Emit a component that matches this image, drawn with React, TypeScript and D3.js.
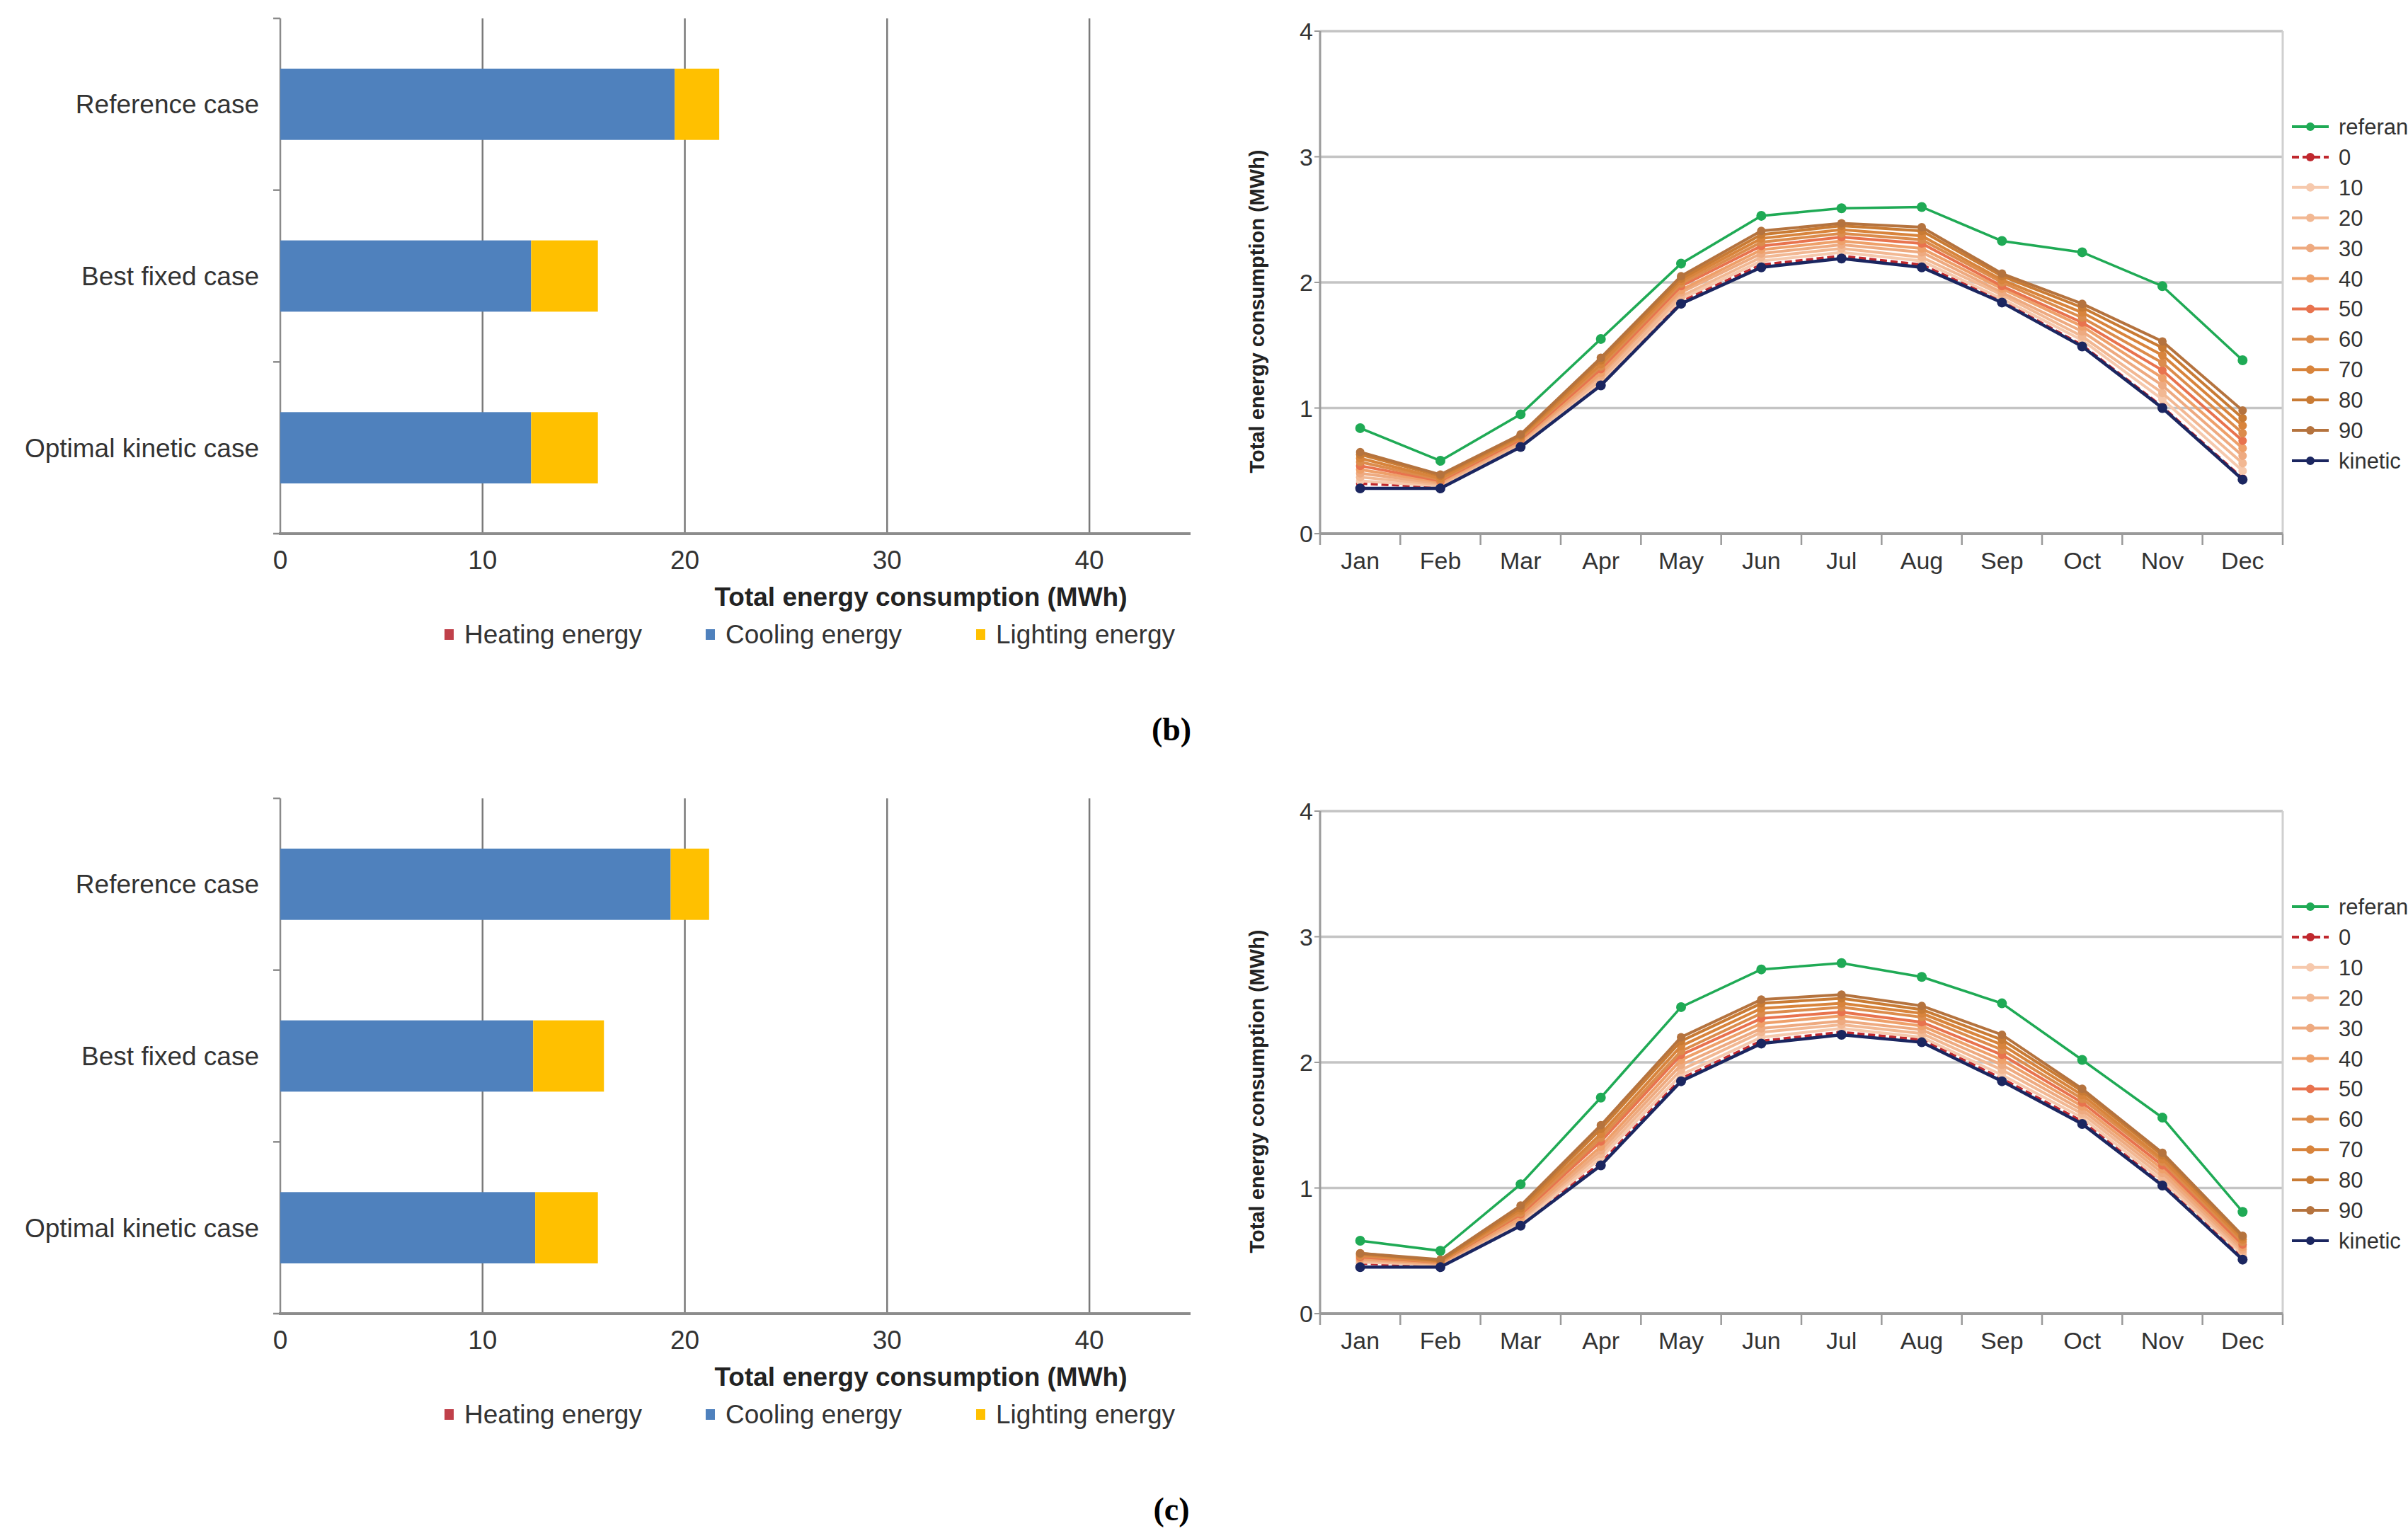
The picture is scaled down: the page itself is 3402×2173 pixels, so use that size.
import * as d3 from "d3";

const W = 3402;
const H = 2173;
const FONT = "'Liberation Sans', Arial, sans-serif";

// ---- bar charts ----
const CASES = ["Reference case", "Best fixed case", "Optimal kinetic case"];
const ENERGY_KEYS = ["Heating energy", "Cooling energy", "Lighting energy"];
const ENERGY_COLORS = ["#c0404a", "#4f81bd", "#ffc000"];
const BAR_TICKS = [0, 10, 20, 30, 40];

// per case: [heating, cooling, lighting] (MWh)
const BARS_B = [
  [0, 19.5, 2.2],
  [0, 12.4, 3.3],
  [0, 12.4, 3.3],
];
const BARS_C = [
  [0, 19.3, 1.9],
  [0, 12.5, 3.5],
  [0, 12.6, 3.1],
];

// ---- monthly line charts ----
const MONTHS = ["Jan", "Feb", "Mar", "Apr", "May", "Jun", "Jul", "Aug", "Sep", "Oct", "Nov", "Dec"];
const Y_TICKS = [0, 1, 2, 3, 4];
const SERIES_NAMES = ["referance", "0", "10", "20", "30", "40", "50", "60", "70", "80", "90", "kinetic"];
const SERIES_COLORS = [
  "#1faa55", "#c0282e", "#f6c9ad", "#f2b893", "#eeaa80", "#eea06a",
  "#e8734e", "#dc8c4c", "#d8843c", "#c97b34", "#b5733e", "#1b2660",
];

const REF_B = [0.84, 0.58, 0.95, 1.55, 2.15, 2.53, 2.59, 2.6, 2.33, 2.24, 1.97, 1.38];
const SHADES_B = [
  [0.4, 0.37, 0.7, 1.19, 1.85, 2.14, 2.21, 2.14, 1.85, 1.5, 1.01, 0.44],
  [0.42, 0.38, 0.71, 1.21, 1.87, 2.17, 2.24, 2.17, 1.87, 1.54, 1.07, 0.5],
  [0.45, 0.39, 0.72, 1.23, 1.89, 2.2, 2.27, 2.2, 1.9, 1.57, 1.12, 0.56],
  [0.48, 0.4, 0.73, 1.26, 1.92, 2.23, 2.3, 2.24, 1.92, 1.61, 1.18, 0.62],
  [0.51, 0.41, 0.74, 1.28, 1.94, 2.26, 2.33, 2.27, 1.95, 1.65, 1.24, 0.68],
  [0.54, 0.42, 0.75, 1.31, 1.97, 2.29, 2.36, 2.31, 1.97, 1.68, 1.3, 0.74],
  [0.57, 0.43, 0.76, 1.33, 1.99, 2.32, 2.39, 2.34, 2.0, 1.72, 1.36, 0.8],
  [0.6, 0.44, 0.77, 1.35, 2.01, 2.35, 2.42, 2.37, 2.02, 1.76, 1.42, 0.86],
  [0.63, 0.46, 0.78, 1.38, 2.03, 2.38, 2.45, 2.41, 2.05, 1.8, 1.48, 0.92],
  [0.65, 0.47, 0.79, 1.4, 2.05, 2.41, 2.47, 2.44, 2.07, 1.83, 1.53, 0.98],
];
const KIN_B = [0.36, 0.36, 0.69, 1.18, 1.83, 2.12, 2.19, 2.12, 1.84, 1.49, 1.0, 0.43];

const REF_C = [0.58, 0.5, 1.03, 1.72, 2.44, 2.74, 2.79, 2.68, 2.47, 2.02, 1.56, 0.81];
const SHADES_C = [
  [0.4, 0.38, 0.71, 1.2, 1.87, 2.17, 2.24, 2.18, 1.87, 1.53, 1.03, 0.45],
  [0.41, 0.39, 0.72, 1.24, 1.9, 2.2, 2.27, 2.2, 1.9, 1.56, 1.06, 0.47],
  [0.42, 0.39, 0.74, 1.27, 1.94, 2.24, 2.3, 2.23, 1.94, 1.59, 1.09, 0.49],
  [0.43, 0.4, 0.75, 1.3, 1.98, 2.27, 2.33, 2.26, 1.98, 1.62, 1.12, 0.51],
  [0.44, 0.4, 0.77, 1.33, 2.02, 2.31, 2.37, 2.29, 2.02, 1.65, 1.15, 0.53],
  [0.45, 0.41, 0.79, 1.37, 2.06, 2.35, 2.4, 2.32, 2.06, 1.68, 1.18, 0.55],
  [0.46, 0.41, 0.8, 1.4, 2.09, 2.39, 2.44, 2.36, 2.1, 1.71, 1.21, 0.57],
  [0.47, 0.42, 0.82, 1.43, 2.13, 2.43, 2.47, 2.39, 2.14, 1.74, 1.23, 0.59],
  [0.48, 0.42, 0.84, 1.47, 2.17, 2.47, 2.51, 2.42, 2.18, 1.77, 1.26, 0.61],
  [0.48, 0.43, 0.86, 1.5, 2.2, 2.5, 2.54, 2.45, 2.22, 1.79, 1.28, 0.62],
];
const KIN_C = [0.37, 0.37, 0.7, 1.18, 1.85, 2.15, 2.22, 2.16, 1.85, 1.51, 1.02, 0.43];

function BarPanel({ rows, off }: { rows: number[][]; off: number }) {
  const x = d3.scaleLinear().domain([0, 45]).range([396, 1682]);
  const y = d3
    .scaleBand()
    .domain(CASES)
    .range([26 + off, 754 + off])
    .paddingInner(0.585)
    .paddingOuter(0.2925);
  const table = CASES.map((c, i) => ({
    name: c,
    [ENERGY_KEYS[0]]: rows[i][0],
    [ENERGY_KEYS[1]]: rows[i][1],
    [ENERGY_KEYS[2]]: rows[i][2],
  }));
  const stacked = d3.stack<any>().keys(ENERGY_KEYS)(table);
  const [y0, y1] = y.range();
  const step = y.step();
  const bounds = [0, 1, 2, 3].map((k) => y0 + k * step);
  const legendX = [628, 997, 1379];

  return (
    <g>
      {BAR_TICKS.slice(1).map((t) => (
        <line key={t} x1={x(t)} x2={x(t)} y1={y0} y2={y1} stroke="#7a7a7a" strokeWidth={2.5} />
      ))}
      <line x1={x(0)} x2={x(0)} y1={y0} y2={y1} stroke="#8a8a8a" strokeWidth={2.5} />
      {bounds.map((b, i) => (
        <line key={i} x1={x(0) - 10} x2={x(0)} y1={b} y2={b} stroke="#8a8a8a" strokeWidth={2.5} />
      ))}
      {stacked.map((s, si) =>
        s.map((d, i) => (
          <rect
            key={`${si}-${i}`}
            x={x(d[0])}
            width={Math.max(0, x(d[1]) - x(d[0]))}
            y={y(CASES[i])}
            height={y.bandwidth()}
            fill={ENERGY_COLORS[si]}
          />
        ))
      )}
      <line x1={x(0) - 2} x2={x(45)} y1={y1} y2={y1} stroke="#8c8c8c" strokeWidth={4} />
      {BAR_TICKS.map((t) => (
        <text key={t} x={x(t)} y={y1 + 50} fontSize={37} textAnchor="middle" fill="#333" fontFamily={FONT}>
          {t}
        </text>
      ))}
      {CASES.map((c) => (
        <text
          key={c}
          x={x(0) - 30}
          y={(y(c) ?? 0) + y.bandwidth() / 2 + 13}
          fontSize={37}
          textAnchor="end"
          fill="#333"
          fontFamily={FONT}
        >
          {c}
        </text>
      ))}
      <text x={1301} y={y1 + 102} fontSize={37} fontWeight="bold" textAnchor="middle" fill="#222" fontFamily={FONT}>
        Total energy consumption (MWh)
      </text>
      {ENERGY_KEYS.map((k, i) => (
        <g key={k}>
          <rect x={legendX[i]} y={y1 + 135} width={13} height={15} fill={ENERGY_COLORS[i]} />
          <text x={legendX[i] + 28} y={y1 + 155} fontSize={37} fill="#333" fontFamily={FONT}>
            {k}
          </text>
        </g>
      ))}
    </g>
  );
}

function LinePanel({ refv, shades, kin, off }: { refv: number[]; shades: number[][]; kin: number[]; off: number }) {
  const x = d3.scaleBand().domain(MONTHS).range([1865, 3225]);
  const y = d3.scaleLinear().domain([0, 4]).range([754 + off, 44 + off]);
  const cx = (m: string) => (x(m) ?? 0) + x.bandwidth() / 2;
  const all = [refv, ...shades, kin];
  const line = d3
    .line<number>()
    .x((_, i) => cx(MONTHS[i]))
    .y((v) => y(v));
  const [xl, xr] = x.range();
  const legendY0 = 179 + off;
  const legendStep = 42.9;

  return (
    <g>
      {Y_TICKS.slice(1).map((t) => (
        <line key={t} x1={xl} x2={xr} y1={y(t)} y2={y(t)} stroke="#c4c4c4" strokeWidth={3.5} />
      ))}
      <line x1={xr} x2={xr} y1={y(4)} y2={y(0)} stroke="#d0d0d0" strokeWidth={3} />
      <line x1={xl} x2={xl} y1={y(4)} y2={y(0)} stroke="#9a9a9a" strokeWidth={3} />
      {Y_TICKS.map((t) => (
        <g key={t}>
          <line x1={xl - 8} x2={xl} y1={y(t)} y2={y(t)} stroke="#9a9a9a" strokeWidth={2} />
          <text x={xl - 10} y={y(t) + 12} fontSize={34} textAnchor="end" fill="#333" fontFamily={FONT}>
            {t}
          </text>
        </g>
      ))}
      <line x1={xl} x2={xr} y1={y(0)} y2={y(0)} stroke="#9a9a9a" strokeWidth={4} />
      {MONTHS.map((m, i) => (
        <g key={m}>
          <line x1={x(m)} x2={x(m)} y1={y(0)} y2={y(0) + 16} stroke="#9a9a9a" strokeWidth={2.5} />
          {i === MONTHS.length - 1 && (
            <line x1={xr} x2={xr} y1={y(0)} y2={y(0) + 16} stroke="#9a9a9a" strokeWidth={2.5} />
          )}
          <text x={cx(m)} y={y(0) + 50} fontSize={34} textAnchor="middle" fill="#333" fontFamily={FONT}>
            {m}
          </text>
        </g>
      ))}
      <text
        transform={`translate(1786,${440 + off}) rotate(-90)`}
        fontSize={29}
        fontWeight="bold"
        textAnchor="middle"
        fill="#222"
        fontFamily={FONT}
      >
        Total energy consumption (MWh)
      </text>
      {all.map((vals, si) => (
        <g key={si}>
          <path
            d={line(vals) ?? ""}
            fill="none"
            stroke={SERIES_COLORS[si]}
            strokeWidth={si === 0 ? 3.5 : si === all.length - 1 ? 4.5 : 4}
            strokeDasharray={si === 1 ? "10 5" : undefined}
          />
          {vals.map((v, i) => (
            <circle key={i} cx={cx(MONTHS[i])} cy={y(v)} r={si === 0 || si === all.length - 1 ? 7 : 6} fill={SERIES_COLORS[si]} />
          ))}
        </g>
      ))}
      {SERIES_NAMES.map((n, i) => {
        const ly = legendY0 + i * legendStep;
        return (
          <g key={n}>
            <line
              x1={3238}
              x2={3290}
              y1={ly}
              y2={ly}
              stroke={SERIES_COLORS[i]}
              strokeWidth={4}
              strokeDasharray={i === 1 ? "10 5" : undefined}
            />
            <circle cx={3264} cy={ly} r={6} fill={SERIES_COLORS[i]} />
            <text x={3304} y={ly + 11} fontSize={31} fill="#333" fontFamily={FONT}>
              {n}
            </text>
          </g>
        );
      })}
    </g>
  );
}

export default function App() {
  return (
    <div style={{ position: "absolute", left: 0, top: 0 }}>
      <svg width={W} height={H} viewBox={`0 0 ${W} ${H}`} style={{ display: "block", background: "#fff" }}>
        <rect width={W} height={H} fill="#fff" />
        <BarPanel rows={BARS_B} off={0} />
        <LinePanel refv={REF_B} shades={SHADES_B} kin={KIN_B} off={0} />
        <BarPanel rows={BARS_C} off={1102} />
        <LinePanel refv={REF_C} shades={SHADES_C} kin={KIN_C} off={1102} />
        <text x={1655} y={1046} fontSize={46} fontWeight="bold" textAnchor="middle" fontFamily="'Liberation Serif', 'Times New Roman', serif">
          (b)
        </text>
        <text x={1655} y={2148} fontSize={46} fontWeight="bold" textAnchor="middle" fontFamily="'Liberation Serif', 'Times New Roman', serif">
          (c)
        </text>
      </svg>
    </div>
  );
}
